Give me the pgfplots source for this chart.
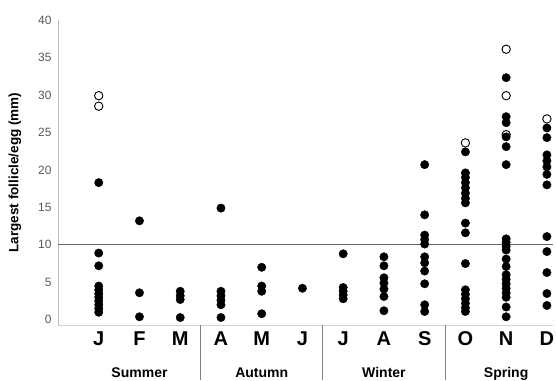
\documentclass[border=0pt]{standalone}
\usepackage{fontspec}
\setmainfont{Liberation Sans}
\usepackage{pgfplots}
\pgfplotsset{compat=1.18}
\definecolor{axgray}{HTML}{BFBFBF}
\definecolor{ticktext}{HTML}{595959}
\begin{document}
\begin{tikzpicture}
\begin{axis}[
  scale only axis,
  width=495pt, height=305pt,
  xmin=-1, xmax=11.15,
  ymin=-0.7, ymax=40,
  axis x line*=bottom, axis y line*=left,
  axis line style={axgray, line width=0.8pt},
  x axis line style={-, draw=axgray!70},
  y axis line style={-},
  ytick={0,5,...,40},
  xtick={0,...,11},
  xticklabels={J,F,M,A,M,J,J,A,S,O,N,D},
  major tick length=0pt,
  /pgf/number format/assume math mode=true,
  yticklabel style={font=\fontsize{12}{12}\selectfont, text=ticktext, xshift=-3pt},
  xticklabel style={font=\fontsize{20}{20}\selectfont\bfseries, yshift=-3pt},
  ylabel={Largest follicle/egg (mm)},
  ylabel style={font=\fontsize{13.5}{13.5}\selectfont\bfseries, yshift=10pt},
  clip=false,
]
\addplot[draw=black!60, line width=0.8pt, no marks] coordinates {(-1,10) (11.15,10)};
\addplot[only marks, mark=*, mark size=4.2pt, mark options={draw=black, fill=white, line width=0.9pt}] coordinates {
(0,29.9) (0,28.5) (9,23.6) (10,36.1) (10,29.9) (10,24.7) (11,26.8)
};
\addplot[only marks, mark=*, mark size=4.2pt, mark options={draw=black, fill=black}] coordinates {
(0,18.3) (0,8.9) (0,7.2) (0,4.5) (0,4.0) (0,3.5) (0,3.0) (0,2.5) (0,2.0) (0,1.5) (0,1.0)
(1,13.2) (1,3.6) (1,0.4)
(2,3.8) (2,3.2) (2,2.7) (2,0.3)
(3,14.9) (3,3.8) (3,3.2) (3,2.6) (3,2.0) (3,0.3)
(4,7.0) (4,4.5) (4,3.8) (4,0.8)
(5,4.2)
(6,8.8) (6,4.3) (6,3.8) (6,3.3) (6,2.8)
(7,8.4) (7,7.2) (7,5.6) (7,4.9) (7,4.1) (7,3.1) (7,1.2)
(8,20.7) (8,14.0) (8,11.3) (8,10.7) (8,10.1) (8,8.4) (8,7.6) (8,6.5) (8,4.8) (8,2.0) (8,1.1)
(9,22.4) (9,19.6) (9,19.0) (9,18.3) (9,17.6) (9,16.9) (9,16.2) (9,15.6) (9,12.9) (9,11.6) (9,7.5) (9,4.0) (9,3.4) (9,2.8) (9,2.2) (9,1.6) (9,1.1)
(10,32.3) (10,27.1) (10,26.3) (10,24.4) (10,23.1) (10,20.7) (10,10.8) (10,10.3) (10,9.8) (10,9.3) (10,8.1) (10,7.1) (10,6.0) (10,5.4) (10,4.8) (10,4.2) (10,3.6) (10,3.0) (10,1.7) (10,0.4)
(11,25.6) (11,24.3) (11,22.0) (11,21.2) (11,20.4) (11,19.4) (11,18.0) (11,11.1) (11,9.1) (11,6.3) (11,3.5) (11,1.9)
};
\draw[gray, line width=0.8pt] (axis cs:2.5,-0.7) -- ([yshift=-55pt]axis cs:2.5,-0.7);
\draw[gray, line width=0.8pt] (axis cs:5.5,-0.7) -- ([yshift=-55pt]axis cs:5.5,-0.7);
\draw[gray, line width=0.8pt] (axis cs:8.5,-0.7) -- ([yshift=-55pt]axis cs:8.5,-0.7);
\node[font=\fontsize{14}{14}\selectfont\bfseries, anchor=base] at ([yshift=-52pt]axis cs:1,-0.7) {Summer};
\node[font=\fontsize{14}{14}\selectfont\bfseries, anchor=base] at ([yshift=-52pt]axis cs:4,-0.7) {Autumn};
\node[font=\fontsize{14}{14}\selectfont\bfseries, anchor=base] at ([yshift=-52pt]axis cs:7,-0.7) {Winter};
\node[font=\fontsize{14}{14}\selectfont\bfseries, anchor=base] at ([yshift=-52pt]axis cs:10,-0.7) {Spring};
\end{axis}
\pgfresetboundingbox
\path[use as bounding box] ([xshift=-58pt,yshift=-55pt]current axis.south west) rectangle ++(556pt,380pt);
\end{tikzpicture}
\end{document}
